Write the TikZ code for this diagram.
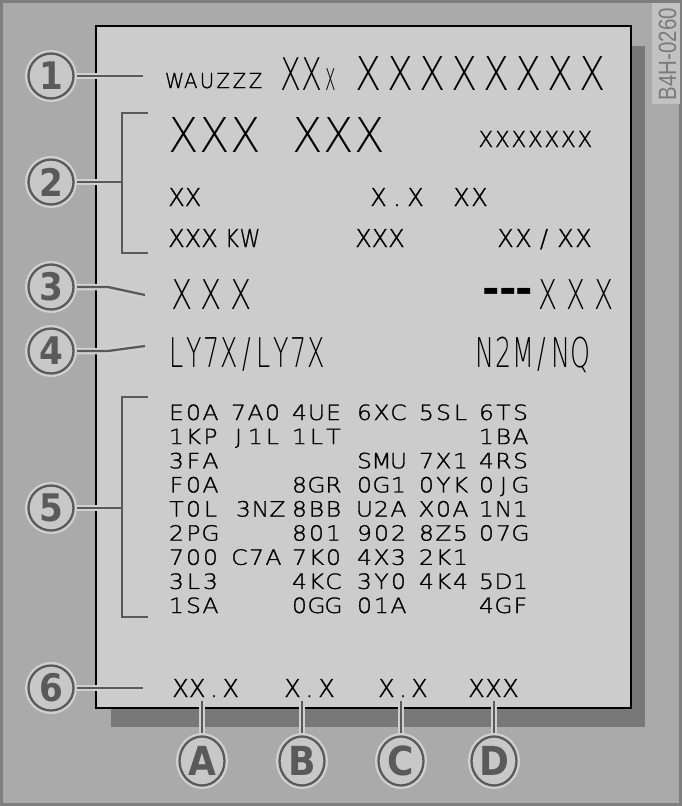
\documentclass[tikz,border=0pt]{standalone}
\usepackage{fontspec}
\usepackage{graphicx}
\usetikzlibrary{shapes.geometric}
\newfontfamily\thinfont{DejaVuSans-ExtraLight}[Extension=.ttf]
\newfontfamily\medfont{DejaVuSans-ExtraLight}[Extension=.ttf,FakeBold=1.2]
\newfontfamily\circfont{DejaVu Sans}
\newfontfamily\reffont{Liberation Sans}
\definecolor{bgc}{HTML}{AAAAAA}
\definecolor{borderc}{HTML}{7E7E7E}
\definecolor{shadowc}{HTML}{787878}
\definecolor{cardc}{HTML}{CCCCCC}
\definecolor{cline}{HTML}{5A5A5A}
\definecolor{chalo}{HTML}{D0D0D0}
\definecolor{cfill}{HTML}{C8C8C8}
\definecolor{refbox}{HTML}{C2C2C2}
\definecolor{reftext}{HTML}{7A7A7A}
\makeatletter
\newcommand\spc[3]{\@tfor\spc@c:=#3\do{\makebox[#1pt][c]{\scalebox{#2}[1]{\spc@c}}}}
\makeatother
\newcommand\fs[1]{\fontsize{#1}{#1}\selectfont}
\newcommand\cd[1]{\spc{17}{1.12}{#1}}
\newcommand\cg[1]{\scalebox{0.9}[1]{#1}}
\pgfdeclarelayer{back}
\pgfdeclarelayer{mid}
\pgfsetlayers{back,mid,main}
\begin{document}
\begin{tikzpicture}[x=1pt,y=-1pt,
  txt/.style={inner sep=0pt, outer sep=0pt, anchor=base west},
  small/.style={txt, font=\medfont\fs{24.7}},
  codet/.style={txt, font=\medfont\fs{21}},
  numc/.style={ellipse, minimum width=45pt, minimum height=45pt, inner sep=0pt,
    fill=cfill, draw=cline, line width=2.3pt,
    preaction={draw=chalo, line width=7pt}, text=cline,
    font=\circfont\bfseries\fs{38}},
  letc/.style={numc, minimum width=45pt, minimum height=49pt,
    font=\circfont\bfseries\fs{40}},
  lead/.style={draw=cline, line width=2.3pt, preaction={draw=chalo, line width=6.5pt}},
  brk/.style={draw=cline, line width=2.3pt},
]
\useasboundingbox (0,0) rectangle (682,806);
\begin{pgfonlayer}{back}
\fill[bgc] (0,0) rectangle (682,806);
\draw[borderc, line width=3pt] (1.5,1.5) rectangle (680.5,804.5);
\fill[refbox] (652,3) rectangle (680,104);
\fill[shadowc] (111,46) rectangle (645,727);
\draw[black, line width=2pt, fill=cardc] (96,26) rectangle (631,708);
\end{pgfonlayer}

\node[rotate=90, inner sep=0pt, text=reftext, font=\reffont\fs{25}] (ref) at (667.5,54) {\scalebox{0.82}[1]{B4H-0260}};

% row 1
\node[txt, font=\medfont\fs{20.6}] (wau) at (166.5,88) {\spc{16.2}{0.95}{WAUZZZ}};
\node[txt, font=\thinfont\fs{45}] (xx) at (280,90) {\spc{21}{0.68}{XX}\hspace{3pt}{\fs{40}\scalebox{0.45}[1]{x}}};
\node[txt, font=\thinfont\fs{46.6}] (vin) at (353,90) {\spc{32}{0.82}{XXXXXXXX}};
% row 2
\node[txt, font=\thinfont\fs{48}] (model) at (168.5,152) {\spc{31}{0.93}{XXX{ }XXX}};
\node[txt, font=\medfont\fs{22}] (mcode) at (477.6,147) {\spc{16.5}{0.98}{XXXXXXX}};
\node[small] (r2a) at (168.3,206) {\spc{16.5}{0.98}{XX}};
\node[small] (r2b) at (369.25,206) {\spc{18.5}{0.98}{X.X}};
\node[small] (r2c) at (452.5,206) {\spc{18}{0.98}{XX}};
\node[small] (r3a) at (168.25,247) {\spc{16.5}{0.98}{XXX}\hspace{5.25pt}\spc{18}{0.85}{KW}};
\node[small] (r3b) at (355.25,247) {\spc{16.5}{0.98}{XXX}};
\node[small] (r3c) at (496.5,247) {\spc{18}{0.98}{XX}\hspace{1pt}\spc{21}{0.98}{/}\hspace{2pt}\spc{18}{0.98}{XX}};
% row 3
\node[txt, font=\thinfont\fs{41}] (eng) at (167.25,309) {\spc{29.5}{0.76}{XXX}};
\node[txt, font=\circfont\bfseries\fs{42}] (dash) at (483.25,309) {\raisebox{6pt}{\spc{16.5}{1}{---}}};
\node[txt, font=\thinfont\fs{41}] (eng2) at (534.6,309) {\spc{27.75}{0.68}{XXX}};
% row 4
\node[txt, font=\thinfont\fs{41}] (paint) at (168,367) {\spc{17.4}{0.62}{LY7X/LY7X}};
\node[txt, font=\thinfont\fs{41}] (trim) at (475,367) {\spc{19.2}{0.62}{N2M/NQ}};
% codes
\foreach \yy/\xx/\cc [count=\i] in {
 420/168/E0A, 420/230/7A0, 420/291/4UE, 420/356/6XC, 420/418/5SL, 420/478/6TS,
 444.1/168/1KP, 444.1/230/J1L, 444.1/291/1LT, 444.1/478/1BA,
 468.3/168/3FA, 468.3/356/SMU, 468.3/418/7X1, 468.3/478/4RS,
 492.4/168/F0A, 492.4/291/8GR, 492.4/356/0G1, 492.4/418/0YK, 492.4/478/0JG,
 516.5/168/T0L, 516.5/235/3NZ, 516.5/291/8BB, 516.5/356/U2A, 516.5/418/X0A, 516.5/478/1N1,
 540.6/168/2PG, 540.6/291/801, 540.6/356/902, 540.6/418/8Z5, 540.6/478/07G,
 564.8/168/700, 564.8/231/C7A, 564.8/291/7K0, 564.8/356/4X3, 564.8/418/2K1,
 588.9/168/3L3, 588.9/291/4KC, 588.9/356/3Y0, 588.9/418/4K4, 588.9/478/5D1,
 613/168/1SA, 613/291/0GG, 613/356/01A, 613/478/4GF}
 \node[codet] (pr\i) at (\xx,\yy) {\expandafter\cd\expandafter{\cc}};
% row 6
\node[small] (wA) at (172.2,697) {\spc{16.7}{0.98}{XX.X}};
\node[small] (wB) at (284,697) {\spc{17}{0.98}{X.X}};
\node[small] (wC) at (378.2,697) {\spc{16.5}{0.98}{X.X}};
\node[small] (wD) at (468,697) {\spc{17}{0.98}{XXX}};

% circles
\node[numc] (n1) at (51,76) {\cg{1}};
\node[numc] (n2) at (51,182) {\cg{2}};
\node[numc] (n3) at (51,287) {\cg{3}};
\node[numc] (n4) at (51,351) {\cg{4}};
\node[numc] (n5) at (51,508) {\cg{5}};
\node[numc] (n6) at (51,688) {\cg{6}};
\node[letc] (cA) at (202,761) {\cg{A}};
\node[letc] (cB) at (302,761) {\cg{B}};
\node[letc] (cC) at (401,761) {\cg{C}};
\node[letc] (cD) at (494,761) {\cg{D}};

\coordinate (e1) at (143,76);
\coordinate (b2) at (122,182);
\coordinate (b2t) at (122,113);
\coordinate (b2tt) at (148,113);
\coordinate (b2b) at (122,253);
\coordinate (b2bb) at (148,253);
\coordinate (k3) at (108,287);
\coordinate (e3) at (145,295);
\coordinate (k4) at (108,351);
\coordinate (e4) at (145,346);
\coordinate (b5) at (122,508);
\coordinate (b5t) at (122,397);
\coordinate (b5tt) at (148,397);
\coordinate (b5b) at (122,617);
\coordinate (b5bb) at (148,617);
\coordinate (e6) at (143,688);
\coordinate (tA) at (202,701);
\coordinate (tB) at (302,701);
\coordinate (tC) at (401,701);
\coordinate (tD) at (494,701);

\begin{pgfonlayer}{mid}
\draw[lead] (n1) -- (e1);
\draw[lead] (n2) -- (b2);
\draw[brk] (b2tt) -- (b2t) -- (b2b) -- (b2bb);
\draw[lead] (n3) -- (k3) -- (e3);
\draw[lead] (n4) -- (k4) -- (e4);
\draw[lead] (n5) -- (b5);
\draw[brk] (b5tt) -- (b5t) -- (b5b) -- (b5bb);
\draw[lead] (n6) -- (e6);
\draw[lead] (cA) -- (tA);
\draw[lead] (cB) -- (tB);
\draw[lead] (cC) -- (tC);
\draw[lead] (cD) -- (tD);
\end{pgfonlayer}
\end{tikzpicture}
\end{document}
